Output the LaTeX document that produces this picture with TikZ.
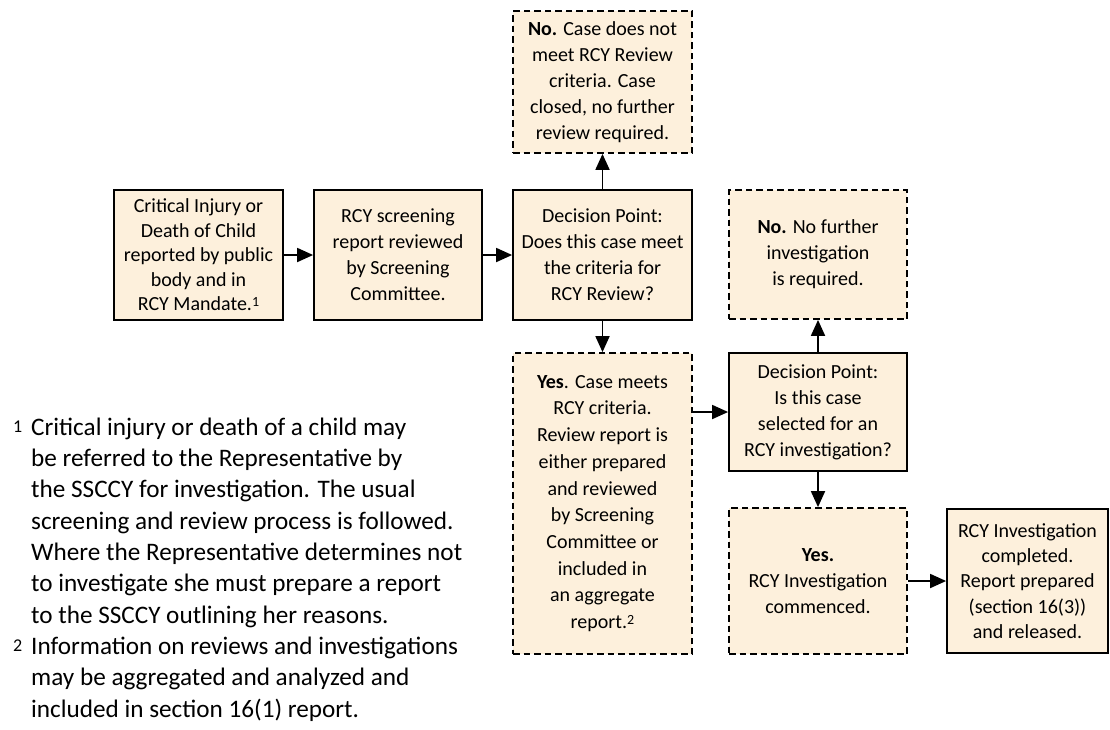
\documentclass[tikz,border=0pt]{standalone}
\usepackage{fontspec}
\setmainfont{Carlito}
\usetikzlibrary{arrows.meta}
\definecolor{boxfill}{HTML}{FDF0DC}
\newcommand{\supnum}[1]{\raisebox{0.45ex}{\fontsize{14}{14}\selectfont #1}}
\begin{document}
\begin{tikzpicture}[x=1pt,y=-1pt,
  base/.style={fill=boxfill, draw=black, line width=1.8pt, align=center, inner sep=0pt, font=\fontsize{20}{26}\selectfont},
  solidbox/.style={base},
  dashbox/.style={base, dash pattern=on 6.5pt off 4pt},
  arr/.style={line width=1.8pt, -{Triangle[length=16pt,width=14pt]}},
  fnline/.style={inner sep=0pt, anchor=base west, font=\fontsize{25.2}{30}\selectfont},
  fnnum/.style={inner sep=0pt, anchor=base west, font=\fontsize{18}{20}\selectfont}]
\useasboundingbox (0,0) rectangle (1110,729);

\node[dashbox, minimum width=179pt, minimum height=142pt] (no1) at (602.5,82)
  {\textbf{No.} Case does not\\ meet RCY Review\\ criteria. Case\\ closed, no further\\ review required.};
\node[solidbox, minimum width=169pt, minimum height=130pt, font=\fontsize{20}{24.5}\selectfont] (a) at (198.5,255)
  {Critical Injury or\\ Death of Child\\ reported by public\\ body and in\\ RCY Mandate.\supnum{1}};
\node[solidbox, minimum width=168pt, minimum height=130pt] (b) at (398,255)
  {RCY screening\\ report reviewed\\ by Screening\\ Committee.};
\node[solidbox, minimum width=179pt, minimum height=130pt] (c) at (602.5,255)
  {Decision Point:\\ Does this case meet\\ the criteria for\\ RCY Review?};
\node[dashbox, minimum width=178pt, minimum height=129pt] (no2) at (818,254.5)
  {\textbf{No.} No further\\ investigation\\ is required.};
\node[dashbox, minimum width=179pt, minimum height=301pt, font=\fontsize{20}{26.7}\selectfont] (yes1) at (602.5,503.5)
  {\textbf{Yes}. Case meets\\ RCY criteria.\\ Review report is\\ either prepared\\ and reviewed\\ by Screening\\ Committee or\\ included in\\ an aggregate\\ report.\supnum{2}};
\node[solidbox, minimum width=178pt, minimum height=118pt] (d) at (818,412)
  {Decision Point:\\ Is this case\\ selected for an\\ RCY investigation?};
\node[dashbox, minimum width=178pt, minimum height=146pt] (yes2) at (818,581)
  {\textbf{Yes.}\\ RCY Investigation\\ commenced.};
\node[solidbox, minimum width=161pt, minimum height=144pt, font=\fontsize{20}{25.4}\selectfont] (e) at (1027.5,581)
  {RCY Investigation\\ completed.\\ Report prepared\\ (section 16(3))\\ and released.};

\draw[arr] (a) -- (b);
\draw[arr] (b) -- (c);
\draw[arr] (c) -- (no1);
\draw[arr] (c) -- (yes1);
\draw[arr] (yes1.east |- d.west) -- (d.west);
\draw[arr] (d) -- (no2);
\draw[arr] (d) -- (yes2);
\draw[arr] (yes2) -- (e);

\node[fnnum] (fnnum1) at (13,432) {1};
\node[fnnum] (fnnum2) at (13,651) {2};
\foreach \t [count=\i] in {{Critical injury or death of a child may},{be referred to the Representative by},{the SSCCY for investigation. The usual},{screening and review process is followed.},{Where the Representative determines not},{to investigate she must prepare a report},{to the SSCCY outlining her reasons.},{Information on reviews and investigations},{may be aggregated and analyzed and},{included in section 16(1) report.}}
  \node[fnline] (fn\i) at (31,{404+31.3*\i}) {\t};
\end{tikzpicture}
\end{document}
